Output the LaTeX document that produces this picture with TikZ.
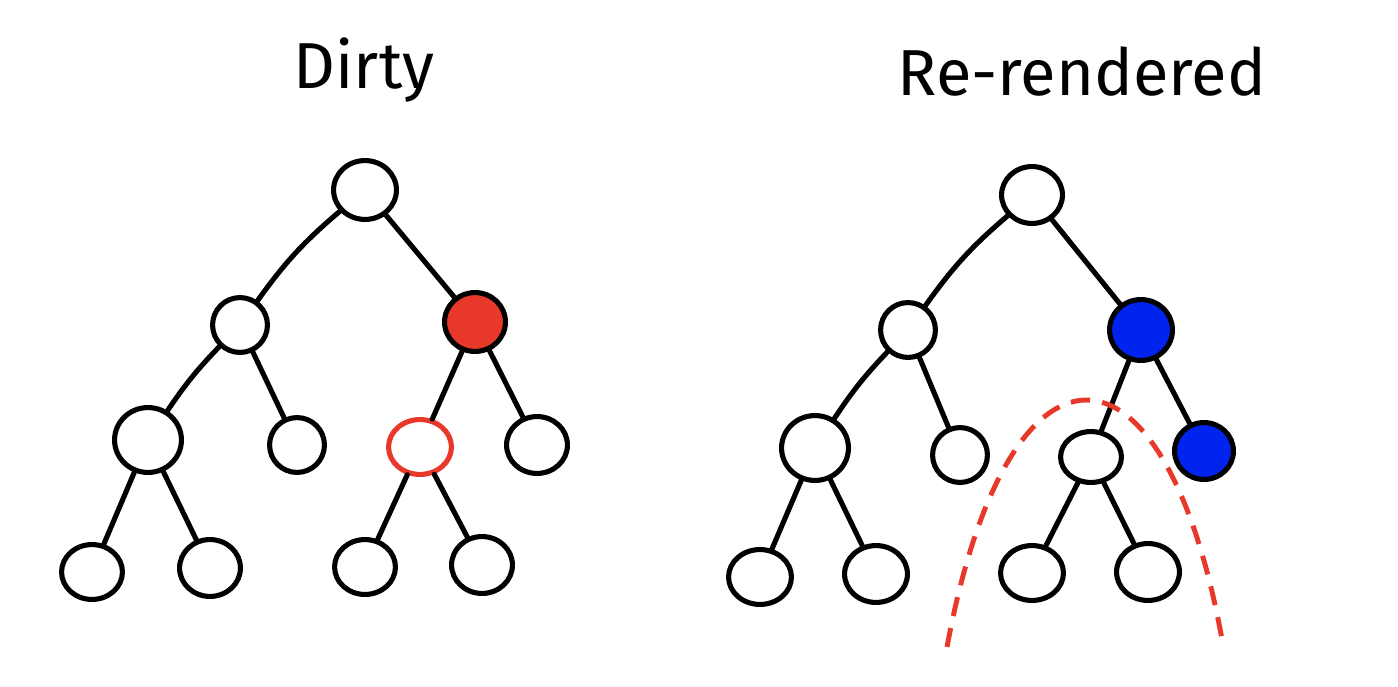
\documentclass[tikz,border=0pt]{standalone}
\usepackage{fontspec}
\setmainfont{Fira Sans}
\usetikzlibrary{shapes.geometric}
\definecolor{dirtyred}{HTML}{E8382A}
\definecolor{rendblue}{HTML}{0024EE}
\begin{document}
\begin{tikzpicture}[x=0.02cm, y=-0.02cm,
  nd/.style 2 args={ellipse, draw=black, line width=2.9pt, fill=white, inner sep=0pt,
    minimum width=#1*0.04cm-2.9pt, minimum height=#2*0.04cm-2.9pt},
  dirty/.style={fill=dirtyred},
  dirtyout/.style={draw=dirtyred},
  fresh/.style={fill=rendblue},
  edge/.style={line width=2.9pt, line cap=round},
  title/.style={font=\fontsize{37}{44}\selectfont, inner sep=0pt},
  boundary/.style={draw=dirtyred, line width=2.8pt, dash pattern=on 11pt off 7pt}]
\useasboundingbox (0,0) rectangle (1398,686);

% titles
\node[title] (t1) at (364,70) {Dirty};
\node[title] (t2) at (1082,72) {Re-rendered};

% ---- left tree: a dirty node and its child ----
\node[nd={34}{32}] (a) at (365,190) {};
\node[nd={30}{30}] (b) at (240,325) {};
\node[nd={33}{32}, dirty] (c) at (475,322) {};
\node[nd={36}{35}] (d) at (148,440) {};
\node[nd={30}{30}] (e) at (297,445) {};
\node[nd={34}{30}, dirtyout] (f) at (420,447) {};
\node[nd={33}{31}] (g) at (537,445) {};
\node[nd={33}{30}] (h) at (92,572) {};
\node[nd={33}{31}] (i) at (210,568) {};
\node[nd={33}{30}] (j) at (365,567) {};
\node[nd={33}{31}] (k) at (482,565) {};

\draw[edge] (a) to[bend right=7] (b);
\draw[edge] (a) -- (c);
\draw[edge] (b) to[bend right=5] (d);
\draw[edge] (b) -- (e);
\draw[edge] (c) -- (f);
\draw[edge] (c) -- (g);
\draw[edge] (d) -- (h);
\draw[edge] (d) -- (i);
\draw[edge] (f) -- (j);
\draw[edge] (f) -- (k);

% ---- right tree: re-rendered path ----
\node[nd={33}{31}] (A) at (1032,195) {};
\node[nd={30}{30}] (B) at (908,330) {};
\node[nd={34}{33}, fresh] (C) at (1141,330) {};
\node[nd={36}{35}] (D) at (815,448) {};
\node[nd={30}{30}] (E) at (960,455) {};
\node[nd={33}{28}] (F) at (1091,457) {};
\node[nd={32}{31}, fresh] (G) at (1204,451) {};
\node[nd={34}{30}] (H) at (760,577) {};
\node[nd={34}{31}] (I) at (876,574) {};
\node[nd={34}{30}] (J) at (1032,573) {};
\node[nd={34}{31}] (K) at (1148,572) {};

\draw[edge] (A) to[bend right=7] (B);
\draw[edge] (A) -- (C);
\draw[edge] (B) to[bend right=5] (D);
\draw[edge] (B) -- (E);
\draw[edge] (C) -- (F);
\draw[edge] (C) -- (G);
\draw[edge] (D) -- (H);
\draw[edge] (D) -- (I);
\draw[edge] (F) -- (J);
\draw[edge] (F) -- (K);

% subtree that was skipped
\draw[boundary] (947,647) .. controls (1008,318) and (1165,318) .. (1223,645);
\end{tikzpicture}
\end{document}
